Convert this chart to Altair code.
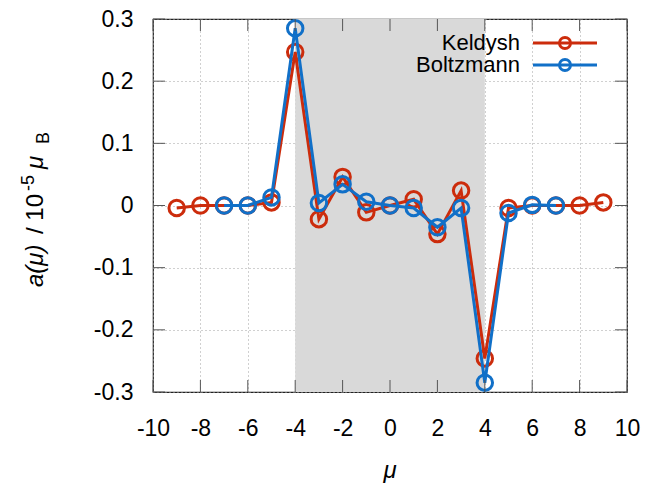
import altair as alt
import pandas as pd

# ---- data ----
mu_keldysh = list(range(-9, 10))
a_keldysh = [-0.004, 0.0, 0.0, 0.0, 0.005, 0.247, -0.022, 0.046, -0.011, 0.0,
             0.010, -0.046, 0.024, -0.246, -0.004, 0.0, 0.0, 0.0, 0.005]
mu_boltz = list(range(-7, 8))
a_boltz = [0.0, 0.0, 0.013, 0.285, 0.004, 0.034, 0.006, 0.0, -0.004, -0.035,
           -0.004, -0.285, -0.012, 0.001, 0.0]
x_ticks = [-10, -8, -6, -4, -2, 0, 2, 4, 6, 8, 10]
y_ticks = [-0.3, -0.2, -0.1, 0.0, 0.1, 0.2, 0.3]
shade_from = [-4]
shade_to = [4]
series_names = ["Keldysh", "Boltzmann"]

# ---- style ----
W, H = 474, 373
RED = "#cc2c0c"
BLUE = "#1170c8"
FONT = "Liberation Sans"
TICK = 12

df_k = pd.DataFrame({"mu": mu_keldysh, "a": a_keldysh})
df_b = pd.DataFrame({"mu": mu_boltz, "a": a_boltz})
df_shade = pd.DataFrame({"x1": shade_from, "x2": shade_to})
df_xt = pd.DataFrame({"t": x_ticks})
df_yt = pd.DataFrame({"t": y_ticks})
one = pd.DataFrame({"d": [0]})

xs = alt.Scale(domain=[-10, 10], nice=False, zero=False)
ys = alt.Scale(domain=[-0.3, 0.3], nice=False, zero=False)

common_axis = dict(ticks=False, domain=False, grid=True, gridDash=[1, 3],
                   gridColor="#a0a0a0", gridWidth=1, labelFontSize=23, labelFont=FONT,
                   labelColor="black", labelFlush=False, labelOverlap=False, title=None)
x_axis = alt.Axis(values=x_ticks, labelExpr="'' + datum.value", labelPadding=25, **common_axis)
y_axis = alt.Axis(values=y_ticks, labelExpr="'' + round(datum.value*10)/10",
                  labelPadding=20, **common_axis)

def X(f):
    return alt.X(f, scale=xs, axis=x_axis)

def Y(f):
    return alt.Y(f, scale=ys, axis=y_axis)

shade = alt.Chart(df_shade).mark_rect(color="#d9d9d9").encode(
    x=X("x1:Q"), x2="x2:Q", y=alt.value(0), y2=alt.value(H))

tick_style = dict(color="#555555", strokeWidth=1)
xt_bottom = alt.Chart(df_xt).mark_rule(**tick_style).encode(
    x=X("t:Q"), y=alt.value(H), y2=alt.value(H - TICK))
xt_top = alt.Chart(df_xt).mark_rule(**tick_style).encode(
    x=X("t:Q"), y=alt.value(0), y2=alt.value(TICK))
yt_left = alt.Chart(df_yt).mark_rule(**tick_style).encode(
    y=Y("t:Q"), x=alt.value(0), x2=alt.value(TICK))
yt_right = alt.Chart(df_yt).mark_rule(**tick_style).encode(
    y=Y("t:Q"), x=alt.value(W - TICK), x2=alt.value(W))

def series(df, color):
    line = alt.Chart(df).mark_line(color=color, strokeWidth=3).encode(
        x=X("mu:Q"), y=Y("a:Q"))
    pts = alt.Chart(df).mark_point(shape="circle", filled=False, color=color,
                                   size=240, strokeWidth=3, opacity=1).encode(
        x=X("mu:Q"), y=Y("a:Q"))
    return line + pts

red = series(df_k, RED)
blue = series(df_b, BLUE)

# legend
def legend_entry(name, color, yy):
    t = alt.Chart(one).mark_text(align="right", baseline="middle", font=FONT,
                                 fontSize=22, color="black").encode(
        x=alt.value(367), y=alt.value(yy), text=alt.value(name))
    r = alt.Chart(one).mark_rule(color=color, strokeWidth=3).encode(
        x=alt.value(380), x2=alt.value(444), y=alt.value(yy))
    p = alt.Chart(one).mark_point(shape="circle", filled=False, color=color, size=120,
                                  strokeWidth=3, opacity=1).encode(
        x=alt.value(412), y=alt.value(yy))
    return t + r + p

leg = legend_entry(series_names[0], RED, 24) + legend_entry(series_names[1], BLUE, 46)

# axis titles
def txt(s, x, y, size=24, style="normal", angle=270, align="left"):
    return alt.Chart(one).mark_text(align=align, baseline="alphabetic", font=FONT,
                                    fontSize=size, fontStyle=style, angle=angle,
                                    color="black").encode(
        x=alt.value(x), y=alt.value(y), text=alt.value(s))

ytitle = (txt("a(μ)", -110, 268, style="italic")
          + txt("/ 10", -110, 215)
          + txt("-5", -119, 172, size=18)
          + txt("μ", -110, 150, style="italic")
          + txt("B", -104, 125, size=18))
xtitle = txt("μ", W / 2, H + 86, style="italic", angle=0, align="center")

chart = alt.layer(shade, red, blue, xt_bottom, xt_top, yt_left, yt_right, leg,
                  ytitle, xtitle).properties(
    width=W, height=H,
    autosize=alt.AutoSizeParams(type="none"),
    padding={"left": 153, "top": 19, "right": 667 - 153 - W, "bottom": 489 - 19 - H},
).configure_view(stroke="#222222", strokeWidth=1.2)

chart.save("out.html", embed_options={"renderer": "svg", "actions": False})
